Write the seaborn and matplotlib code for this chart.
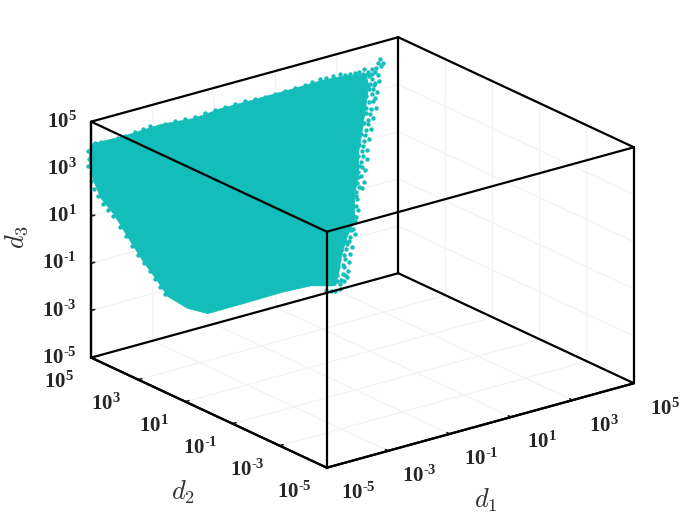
import matplotlib
matplotlib.use("Agg")
import matplotlib.pyplot as plt
import seaborn as sns
from matplotlib.transforms import ScaledTranslation
from mpl_toolkits.mplot3d.art3d import Poly3DCollection

# axis ticks, log10 values
tick_exp = [-5, -3, -1, 1, 3, 5]
tick_labels = ["$\\mathbf{10^{\u20105}}$", "$\\mathbf{10^{\u20103}}$", "$\\mathbf{10^{\u20101}}$",
               r"$\mathbf{10^{1}}$", r"$\mathbf{10^{3}}$", r"$\mathbf{10^{5}}$"]

# outline of the solid part of the cloud, log10(d1), log10(d2), log10(d3)
core_d1 = [-5.00, -4.71, -4.41, -3.73, -3.12, -2.62, -2.07, -1.15, -0.78, -0.36, 0.06, 0.10, 0.05,
           -0.01, -0.08, -0.08, -0.16, -0.16, -0.30, -0.40, -0.45, -0.52, -0.97, -1.52, -2.13, -2.86,
           -3.23, -3.60, -3.82, -4.04, -4.23, -4.59, -4.83, -4.96, -5.04, -5.04]
core_d2 = [5.00, 4.71, 4.41, 3.73, 3.12, 2.62, 2.07, 1.15, 0.78, 0.36, -0.06, -0.10, -0.05,
           0.01, 0.08, 0.08, 0.16, 0.16, 0.30, 0.40, 0.45, 0.52, 0.97, 1.52, 2.13, 2.86,
           3.23, 3.60, 3.82, 4.04, 4.23, 4.59, 4.83, 4.96, 5.04, 5.04]
core_d3 = [4.07, 4.27, 4.47, 5.04, 5.36, 5.83, 6.23, 6.92, 7.21, 7.46, 7.59, 7.04, 6.19,
           5.25, 4.27, 3.34, 2.36, 1.30, 0.61, -0.21, -0.94, -1.45, -1.50, -1.85, -2.33, -2.88,
           -2.70, -2.23, -1.49, -0.83, -0.17, 1.14, 1.80, 2.50, 3.14, 3.86]

# loose points around the edge of the cloud
edge_d1 = [0.32, 0.38, 0.29, 0.25, 0.34, 0.18, 0.10, 0.03, -0.06, -0.14, -0.23, -0.32, -0.41, -0.54,
           -0.67, -0.78, -0.93, -1.06, 0.29, 0.23, 0.18, 0.12, 0.05, 0.30, 0.21, 0.10, -0.01, -0.08,
           0.27, 0.18, 0.23, 0.06, -0.05, -0.12, -0.14, 0.25, 0.16, 0.06, -0.01, -0.10, 0.19, 0.10,
           0.01, -0.08, -0.14, 0.16, 0.06, -0.03, -0.12, 0.12, 0.03, -0.08, -0.18, 0.08, -0.01, -0.12,
           -0.21, 0.08, -0.03, -0.14, -0.25, 0.05, -0.08, -0.19, -0.27, 0.03, -0.10, -0.21, -0.30, -0.01,
           -0.12, -0.25, -0.10, -0.19, -0.30, -0.08, -0.19, -0.32, -0.14, -0.25, -0.32, -0.14, -0.23, -0.34,
           -0.19, -0.29, -0.41, -0.23, -0.34, -0.47, -0.25, -0.36, -0.51, -0.27, -0.36, -0.49, -0.29, -0.40,
           -0.54, -0.41, -0.52, -0.41, -0.51, -0.58, -0.67,
           -4.93, -4.82, -4.61, -4.50, -4.37, -4.19, -4.04, -3.91, -3.64, -3.45, -3.27, -3.08, -2.90, -2.72,
           -2.53, -2.35, -2.16, -1.98, -1.80, -1.61, -1.43, -1.24,
           -5.06, -5.04, -5.06, -5.00, -5.00, -4.94, -4.87, -4.78, -4.69, -4.59, -4.47, -4.36, -4.24, -4.13,
           -4.02, -3.91, -3.82, -3.73, -3.64,
           0.01, 0.10, 0.18, 0.06, 0.14, 0.23, 0.05, 0.12, 0.19, 0.03, 0.12, 0.19, -0.01, 0.06, 0.14,
           -0.05, 0.03, 0.10, -0.10, -0.03, 0.05, -0.14, -0.06, 0.01, -0.18, -0.08, 0.01, -0.14, -0.06, -0.01,
           -0.16, -0.08, -0.03, -0.18, -0.06, -0.18, -0.12, -0.18, -0.12, -0.16, -0.12, -0.21, -0.18,
           -0.32, -0.25, -0.40, -0.30, -0.43, -0.32, -0.45, -0.34, -0.47, -0.32, -0.47, -0.34]
edge_d2 = [-0.32, -0.38, -0.29, -0.25, -0.34, -0.18, -0.10, -0.03, 0.06, 0.14, 0.23, 0.32, 0.41, 0.54,
           0.67, 0.78, 0.93, 1.06, -0.29, -0.23, -0.18, -0.12, -0.05, -0.30, -0.21, -0.10, 0.01, 0.08,
           -0.27, -0.18, -0.23, -0.06, 0.05, 0.12, 0.14, -0.25, -0.16, -0.06, 0.01, 0.10, -0.19, -0.10,
           -0.01, 0.08, 0.14, -0.16, -0.06, 0.03, 0.12, -0.12, -0.03, 0.08, 0.18, -0.08, 0.01, 0.12,
           0.21, -0.08, 0.03, 0.14, 0.25, -0.05, 0.08, 0.19, 0.27, -0.03, 0.10, 0.21, 0.30, 0.01,
           0.12, 0.25, 0.10, 0.19, 0.30, 0.08, 0.19, 0.32, 0.14, 0.25, 0.32, 0.14, 0.23, 0.34,
           0.19, 0.29, 0.41, 0.23, 0.34, 0.47, 0.25, 0.36, 0.51, 0.27, 0.36, 0.49, 0.29, 0.40,
           0.54, 0.41, 0.52, 0.41, 0.51, 0.58, 0.67,
           4.93, 4.82, 4.61, 4.50, 4.37, 4.19, 4.04, 3.91, 3.64, 3.45, 3.27, 3.08, 2.90, 2.72,
           2.53, 2.35, 2.16, 1.98, 1.80, 1.61, 1.43, 1.24,
           5.06, 5.04, 5.06, 5.00, 5.00, 4.94, 4.87, 4.78, 4.69, 4.59, 4.47, 4.36, 4.24, 4.13,
           4.02, 3.91, 3.82, 3.73, 3.64,
           -0.01, -0.10, -0.18, -0.06, -0.14, -0.23, -0.05, -0.12, -0.19, -0.03, -0.12, -0.19, 0.01, -0.06, -0.14,
           0.05, -0.03, -0.10, 0.10, 0.03, -0.05, 0.14, 0.06, -0.01, 0.18, 0.08, -0.01, 0.14, 0.06, 0.01,
           0.16, 0.08, 0.03, 0.18, 0.06, 0.18, 0.12, 0.18, 0.12, 0.16, 0.12, 0.21, 0.18,
           0.32, 0.25, 0.40, 0.30, 0.43, 0.32, 0.45, 0.34, 0.47, 0.32, 0.47, 0.34]
edge_d3 = [8.25, 8.09, 8.04, 7.86, 7.92, 7.81, 7.64, 7.76, 7.66, 7.57, 7.52, 7.47, 7.50, 7.40,
           7.31, 7.25, 7.11, 6.97, 7.57, 7.69, 7.35, 7.47, 7.33, 7.28, 7.10, 7.04, 7.25, 7.41,
           6.85, 6.75, 6.55, 6.62, 6.82, 7.06, 6.72, 6.17, 6.08, 6.11, 6.31, 6.47, 5.74, 5.64,
           5.85, 5.97, 5.62, 5.27, 5.18, 5.38, 5.20, 4.84, 4.71, 4.86, 4.69, 4.37, 4.28, 4.39,
           4.26, 3.99, 3.85, 3.93, 3.83, 3.52, 3.42, 3.54, 3.32, 3.01, 2.92, 2.99, 2.89, 2.71,
           2.57, 2.47, 2.24, 2.14, 2.00, 1.81, 1.72, 1.62, 1.30, 1.20, 1.03, 0.75, 0.65, 0.77,
           0.23, 0.31, 0.34, -0.07, -0.16, 0.08, -0.41, -0.55, -0.35, -0.83, -0.97, -0.77, -1.09, -1.23,
           -1.07, -1.40, -1.37, -1.61, -1.70, -1.71, -1.68,
           4.12, 4.17, 4.23, 4.37, 4.47, 4.66, 4.80, 4.94, 5.06, 5.20, 5.31, 5.41, 5.59, 5.74,
           5.89, 6.03, 6.18, 6.28, 6.39, 6.53, 6.68, 6.82,
           3.77, 3.43, 3.13, 2.84, 2.50, 2.17, 1.88, 1.55, 1.31, 1.06, 0.61, 0.23, -0.18, -0.55,
           -0.88, -1.20, -1.53, -1.86, -2.15,
           7.58, 7.59, 7.60, 7.17, 7.17, 7.19, 6.91, 6.92, 6.93, 6.40, 6.41, 6.42, 5.89, 5.90, 5.90,
           5.46, 5.47, 5.47, 4.99, 5.00, 5.00, 4.52, 4.53, 4.53, 4.05, 4.06, 4.07, 3.63, 3.64, 3.64,
           3.20, 3.21, 3.22, 2.74, 2.75, 2.36, 2.36, 1.93, 1.94, 1.51, 1.51, 0.95, 0.96,
           0.47, 0.48, 0.08, 0.10, -0.34, -0.33, -0.68, -0.67, -1.02, -1.01, -1.28, -1.26]

cloud_color = "#13BDBA"

sns.set_theme(style="white")
plt.rcParams["font.family"] = ["Liberation Serif", "DejaVu Serif"]
plt.rcParams["mathtext.fontset"] = "custom"
plt.rcParams["mathtext.bf"] = "Liberation Serif:bold"
plt.rcParams["mathtext.rm"] = "Liberation Serif"
plt.rcParams["mathtext.it"] = "Liberation Serif:italic"
plt.rcParams["grid.color"] = "#f3f3f3"
plt.rcParams["grid.linewidth"] = 0.9

fig = plt.figure(figsize=(7, 5.25), dpi=100)
ax = fig.add_axes([-7.2 / 700, -97.2 / 525, 720 / 700, 720 / 525], projection="3d",
                  proj_type="ortho", computed_zorder=False)
ax.view_init(elev=21, azim=-127.5)
ax.set_box_aspect((1, 1, 0.653), zoom=0.813)
ax.patch.set_alpha(0)

lo, hi = tick_exp[0], tick_exp[-1]
ax.set_xlim(lo, hi)
ax.set_ylim(lo, hi)
ax.set_zlim(lo, hi)

# cloud
core = Poly3DCollection([list(zip(core_d1, core_d2, core_d3))], facecolor=cloud_color,
                        edgecolor=cloud_color, linewidth=0.5, zorder=2)
ax.add_collection3d(core)
ax.scatter(edge_d1, edge_d2, edge_d3, s=10, c=cloud_color, linewidths=0, depthshade=False, zorder=3)

# ticks and panes, label shifts are in inches
label_shift = [(ax.xaxis, ax.set_xticks, ax.set_xticklabels, 0.19, 0.03),
               (ax.yaxis, ax.set_yticks, ax.set_yticklabels, -0.16, 0.03),
               (ax.zaxis, ax.set_zticks, ax.set_zticklabels, 0.14, 0.09)]
for axis, setter, getter, dx, dy in label_shift:
    setter(tick_exp)
    getter(tick_labels, fontsize=15, color="#262626")
    for tick in axis.get_major_ticks():
        # axis3d resets this transform on every draw, so block that
        tick.label1.set_transform(ax.transData + ScaledTranslation(dx, dy, fig.dpi_scale_trans))
        tick.label1.set_transform = lambda t: None
    axis.pane.set_facecolor((1, 1, 1, 0))
    axis.pane.set_edgecolor((1, 1, 1, 0))
    axis.line.set_color("black")
    axis.line.set_linewidth(1.6)
    axis._axinfo["tick"]["inward_factor"] = 0.0
    axis._axinfo["tick"]["outward_factor"] = 0.14
    axis._axinfo["tick"]["linewidth"] = {True: 1.3, False: 0.5}
    axis._axinfo["tick"]["color"] = "black"
for label in ax.get_zticklabels():
    label.set_ha("right")
ax.grid(True)
ax.tick_params(axis="x", pad=6)
ax.tick_params(axis="y", pad=6)
ax.tick_params(axis="z", pad=6)

# box edges
for y_a, z_a in [(lo, lo), (hi, lo), (lo, hi), (hi, hi)]:
    ax.plot([lo, hi], [y_a, y_a], [z_a, z_a], color="black", lw=1.6, zorder=5)
for x_a, z_a in [(lo, lo), (hi, lo), (lo, hi), (hi, hi)]:
    ax.plot([x_a, x_a], [lo, hi], [z_a, z_a], color="black", lw=1.6, zorder=5)
for x_a, y_a in [(lo, lo), (hi, lo), (lo, hi), (hi, hi)]:
    ax.plot([x_a, x_a], [y_a, y_a], [lo, hi], color="black", lw=1.6, zorder=5)

fig.text(486 / 700, 1 - 500 / 525, r"$d_1$", fontsize=19, ha="center", va="center",
         math_fontfamily="cm", color="#303030")
fig.text(183 / 700, 1 - 492 / 525, r"$d_2$", fontsize=19, ha="center", va="center",
         math_fontfamily="cm", color="#303030")
fig.text(17 / 700, 1 - 237 / 525, r"$d_3$", fontsize=19, ha="center", va="center", rotation=90,
         math_fontfamily="cm", color="#303030")

fig.savefig("out.png", dpi=100)
